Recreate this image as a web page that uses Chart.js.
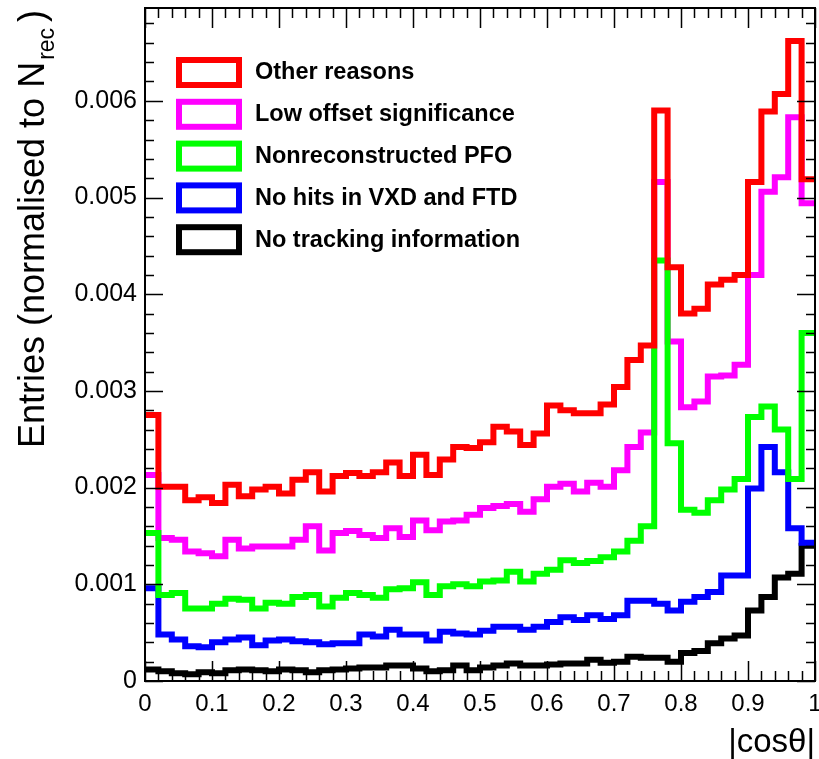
<!DOCTYPE html>
<html>
<head>
<meta charset="utf-8">
<script src="https://cdn.jsdelivr.net/npm/chart.js@4.4.1/dist/chart.umd.min.js"></script>
<style>
  html, body { margin: 0; padding: 0; background: #fff; }
</style>
</head>
<body>
<canvas id="myChart" width="819" height="759"></canvas>
<script>
// lower edges of the 50 bins in |cos theta|
const binLowEdges = [
  0.00, 0.02, 0.04, 0.06, 0.08, 0.10, 0.12, 0.14, 0.16, 0.18,
  0.20, 0.22, 0.24, 0.26, 0.28, 0.30, 0.32, 0.34, 0.36, 0.38,
  0.40, 0.42, 0.44, 0.46, 0.48, 0.50, 0.52, 0.54, 0.56, 0.58,
  0.60, 0.62, 0.64, 0.66, 0.68, 0.70, 0.72, 0.74, 0.76, 0.78,
  0.80, 0.82, 0.84, 0.86, 0.88, 0.90, 0.92, 0.94, 0.96, 0.98
];
const lastEdge = 1.0;

const seriesNames = [
  'Other reasons',
  'Low offset significance',
  'Nonreconstructed PFO',
  'No hits in VXD and FTD',
  'No tracking information'
];
const seriesColors = ['#ff0000', '#ff00ff', '#00ff00', '#0000ff', '#000000'];
// lower number = drawn on top
const drawOrder = [0, 2, 1, 3, 4];

const otherReasons = [
  0.00275, 0.00201, 0.00201, 0.00187, 0.00190, 0.00184, 0.00203, 0.00191, 0.00198, 0.00201,
  0.00194, 0.00208, 0.00216, 0.00196, 0.00212, 0.00215, 0.00212, 0.00216, 0.00226, 0.00212,
  0.00234, 0.00213, 0.00229, 0.00242, 0.00241, 0.00247, 0.00263, 0.00258, 0.00244, 0.00256,
  0.00285, 0.00280, 0.00277, 0.00277, 0.00286, 0.00304, 0.00332, 0.00347, 0.00590, 0.00428,
  0.00380, 0.00385, 0.00410, 0.00415, 0.00420, 0.00516, 0.00589, 0.00607, 0.00662, 0.00519
];
const lowOffset = [
  0.00213, 0.00148, 0.00146, 0.00134, 0.00132, 0.00129, 0.00146, 0.00137, 0.00139, 0.00139,
  0.00139, 0.00146, 0.00160, 0.00135, 0.00153, 0.00155, 0.00151, 0.00148, 0.00158, 0.00149,
  0.00166, 0.00156, 0.00165, 0.00166, 0.00172, 0.00179, 0.00181, 0.00183, 0.00175, 0.00188,
  0.00201, 0.00204, 0.00196, 0.00205, 0.00201, 0.00218, 0.00242, 0.00257, 0.00516, 0.00351,
  0.00283, 0.00289, 0.00315, 0.00316, 0.00327, 0.00420, 0.00506, 0.00521, 0.00583, 0.00494
];
const nonReconstructed = [
  0.00153, 0.00089, 0.00091, 0.00075, 0.00075, 0.00080, 0.00085, 0.00084, 0.00075, 0.00081,
  0.00080, 0.00087, 0.00089, 0.00077, 0.00086, 0.00091, 0.00089, 0.00086, 0.00095, 0.00096,
  0.00102, 0.00089, 0.00098, 0.00100, 0.00098, 0.00103, 0.00104, 0.00113, 0.00103, 0.00111,
  0.00115, 0.00125, 0.00122, 0.00124, 0.00128, 0.00134, 0.00145, 0.00160, 0.00435, 0.00246,
  0.00177, 0.00174, 0.00187, 0.00198, 0.00209, 0.00273, 0.00284, 0.00260, 0.00209, 0.00360
];
const noHits = [
  0.00096, 0.00048, 0.00043, 0.00036, 0.00035, 0.00040, 0.00043, 0.00045, 0.00037, 0.00042,
  0.00043, 0.00041, 0.00040, 0.00038, 0.00039, 0.00039, 0.00048, 0.00046, 0.00053, 0.00048,
  0.00048, 0.00042, 0.00051, 0.00049, 0.00048, 0.00052, 0.00056, 0.00056, 0.00053, 0.00056,
  0.00061, 0.00066, 0.00063, 0.00068, 0.00064, 0.00068, 0.00083, 0.00083, 0.00080, 0.00073,
  0.00082, 0.00087, 0.00092, 0.00109, 0.00109, 0.00199, 0.00242, 0.00216, 0.00158, 0.00143
];
const noTracking = [
  0.00012, 0.00010, 0.00008, 0.00007, 0.00009, 0.00008, 0.00011, 0.00012, 0.00011, 0.00010,
  0.00012, 0.00011, 0.00009, 0.00011, 0.00012, 0.00013, 0.00014, 0.00014, 0.00016, 0.00016,
  0.00013, 0.00010, 0.00011, 0.00016, 0.00011, 0.00014, 0.00016, 0.00018, 0.00016, 0.00016,
  0.00017, 0.00018, 0.00018, 0.00022, 0.00019, 0.00020, 0.00025, 0.00024, 0.00024, 0.00020,
  0.00029, 0.00031, 0.00039, 0.00044, 0.00047, 0.00073, 0.00087, 0.00107, 0.00111, 0.00140
];
const allSeries = [otherReasons, lowOffset, nonReconstructed, noHits, noTracking];

const xTickValues = [0, 0.1, 0.2, 0.3, 0.4, 0.5, 0.6, 0.7, 0.8, 0.9, 1];
const xTickLabels = ['0', '0.1', '0.2', '0.3', '0.4', '0.5', '0.6', '0.7', '0.8', '0.9', '1'];
const yTickValues = [0, 0.001, 0.002, 0.003, 0.004, 0.005, 0.006];
const yTickLabels = ['0', '0.001', '0.002', '0.003', '0.004', '0.005', '0.006'];
const yMax = 0.00696;

const FONT = "'Liberation Sans', Arial, Helvetica, sans-serif";

// histogram outline: one point per bin low edge plus the closing edge
function histPoints(vals) {
  const pts = binLowEdges.map((x, i) => ({ x: x, y: vals[i] }));
  pts.push({ x: lastEdge, y: vals[vals.length - 1] });
  return pts;
}

// ROOT-like frame: box, inward ticks on all sides, legend and axis titles
const rootFrame = {
  id: 'rootFrame',
  afterDraw(chart) {
    const ctx = chart.ctx;
    const a = chart.chartArea;
    const xs = chart.scales.x;
    const ys = chart.scales.y;
    ctx.save();
    ctx.strokeStyle = '#000';
    ctx.lineWidth = 2;
    ctx.strokeRect(a.left, a.top, a.right - a.left, a.bottom - a.top);

    ctx.lineWidth = 1.5;
    ctx.beginPath();
    // x ticks: major every 0.1, minor every 0.02
    for (let k = 0; k <= 50; k++) {
      const px = Math.round(xs.getPixelForValue(k * 0.02)) + 0.5;
      const len = (k % 5 === 0) ? 20 : 10;
      ctx.moveTo(px, a.bottom); ctx.lineTo(px, a.bottom - len);
      ctx.moveTo(px, a.top); ctx.lineTo(px, a.top + len);
    }
    // y ticks: major every 0.001, minor every 0.0002
    for (let k = 0; k * 0.0002 <= yMax + 1e-9; k++) {
      const py = Math.round(ys.getPixelForValue(k * 0.0002)) + 0.5;
      const len = (k % 5 === 0) ? 18 : 9;
      ctx.moveTo(a.left, py); ctx.lineTo(a.left + len, py);
      ctx.moveTo(a.right, py); ctx.lineTo(a.right - len, py);
    }
    ctx.stroke();

    // legend
    chart.data.datasets.forEach((ds, i) => {
      const top = 60 + i * 41.8;
      ctx.strokeStyle = ds.borderColor;
      ctx.lineWidth = 6;
      ctx.strokeRect(179, top, 60, 25);
      ctx.fillStyle = '#000';
      ctx.font = 'bold 23.5px ' + FONT;
      ctx.textAlign = 'left';
      ctx.textBaseline = 'middle';
      ctx.fillText(ds.label, 255, top + 13);
    });

    // y title with subscript
    ctx.fillStyle = '#000';
    ctx.translate(44, 448);
    ctx.rotate(-Math.PI / 2);
    ctx.textAlign = 'left';
    ctx.textBaseline = 'alphabetic';
    ctx.font = '36px ' + FONT;
    const main = 'Entries (normalised to N';
    ctx.fillText(main, 0, 0);
    let w = ctx.measureText(main).width;
    ctx.font = '23px ' + FONT;
    ctx.fillText('rec', w + 2, 10);
    w += ctx.measureText('rec').width + 4;
    ctx.font = '36px ' + FONT;
    ctx.fillText(')', w + 4, 0);
    ctx.restore();

    // x title
    ctx.save();
    ctx.fillStyle = '#000';
    ctx.font = '33px ' + FONT;
    ctx.textAlign = 'right';
    ctx.textBaseline = 'alphabetic';
    ctx.fillText('|cos\u03B8|', a.right, 752);
    ctx.restore();
  }
};

const ctx = document.getElementById('myChart');
new Chart(ctx, {
  type: 'line',
  data: {
    datasets: allSeries.map((vals, i) => ({
      label: seriesNames[i],
      data: histPoints(vals),
      borderColor: seriesColors[i],
      borderWidth: 6,
      stepped: 'before',
      pointRadius: 0,
      fill: false,
      order: drawOrder[i]
    }))
  },
  options: {
    responsive: false,
    animation: false,
    devicePixelRatio: 1,
    layout: { padding: { top: 8, right: 4, left: 0, bottom: 0 } },
    plugins: {
      legend: { display: false },
      tooltip: { enabled: false }
    },
    scales: {
      x: {
        type: 'linear',
        min: 0,
        max: 1,
        afterBuildTicks: (s) => { s.ticks = xTickValues.map(v => ({ value: v })); },
        afterFit: (s) => { s.height = 78; s.paddingLeft = 0; s.paddingRight = 0; },
        ticks: {
          callback: (v, i) => xTickLabels[i],
          font: { family: FONT, size: 24 },
          color: '#000',
          padding: 9,
          maxRotation: 0,
          autoSkip: false
        },
        grid: { display: false, drawTicks: false },
        border: { display: false }
      },
      y: {
        type: 'linear',
        min: 0,
        max: yMax,
        afterBuildTicks: (s) => { s.ticks = yTickValues.map(v => ({ value: v })); },
        afterFit: (s) => { s.width = 145; s.paddingTop = 0; s.paddingBottom = 0; },
        ticks: {
          callback: (v, i) => yTickLabels[i],
          font: { family: FONT, size: 25 },
          color: '#000',
          padding: 8,
          autoSkip: false
        },
        grid: { display: false, drawTicks: false },
        border: { display: false }
      }
    }
  },
  plugins: [rootFrame]
});
</script>
</body>
</html>
